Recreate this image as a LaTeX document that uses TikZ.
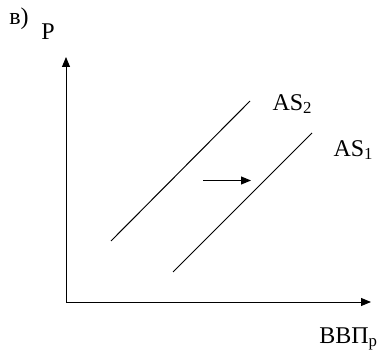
\documentclass[tikz,border=0pt]{standalone}
\usepackage{fontspec}
\setmainfont{Liberation Serif}
\usepackage{tikz}
\usetikzlibrary{arrows.meta}

\begin{document}
\begin{tikzpicture}[x=1pt,y=-1pt,>={Stealth[length=10pt,width=8pt,inset=0pt]},
    line width=1pt,
    lbl/.style={font=\fontsize{24}{28}\selectfont,inner sep=0pt}]
        % --- 1. Frame ---
        \useasboundingbox (0,0) rectangle (381,353);

        % --- 2. Define Coordinates ---
        \coordinate (O) at (66,302);
        \coordinate (Ytop) at (66,57);
        \coordinate (Xend) at (371,302);
        \coordinate (AStwoA) at (111,241);
        \coordinate (AStwoB) at (250,101);
        \coordinate (ASoneA) at (173,272);
        \coordinate (ASoneB) at (312,133);
        \coordinate (ShiftA) at (203,180.5);
        \coordinate (ShiftB) at (251,180.5);

        % --- 3. Draw the Axes ---
        \draw[->] (O) -- (Ytop);
        \draw[->] (O) -- (Xend);

        % --- 4. Draw the Supply Curves ---
        \draw (AStwoA) -- (AStwoB);
        \draw (ASoneA) -- (ASoneB);
        \draw[->] (ShiftA) -- (ShiftB);

        % --- 5. Labels ---
        \node[lbl] (part) at (19,19) {в)};
        \node[lbl] (price) at (48,32) {P};
        \node[lbl,anchor=west] (astwo) at (272,104) {AS\textsubscript{2}};
        \node[lbl,anchor=west] (asone) at (333,150) {AS\textsubscript{1}};
        \node[lbl,anchor=east] (gdp) at (378,339) {ВВП\textsubscript{р}};
    \end{tikzpicture}
\end{document}
